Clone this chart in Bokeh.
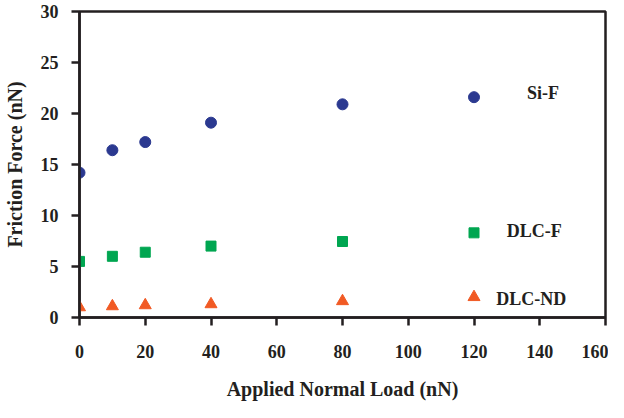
from bokeh.plotting import figure
from bokeh.embed import file_html
from bokeh.resources import INLINE
from bokeh.models import FixedTicker, Range1d
from bokeh.core.properties import value

# Data
load = [0, 10, 20, 40, 80, 120]
si_f = [14.2, 16.4, 17.2, 19.1, 20.9, 21.6]
dlc_f = [5.5, 6.0, 6.4, 7.0, 7.45, 8.3]
dlc_nd = [1.0, 1.1, 1.2, 1.3, 1.6, 2.0]

label_text = ["Si-F", "DLC-F", "DLC-ND"]
label_x = [141, 138.3, 137.4]
label_y = [22.0, 8.5, 1.8]

x_ticks = [0, 20, 40, 60, 80, 100, 120, 140, 160]
y_ticks = [0, 5, 10, 15, 20, 25, 30]

FONT = "Liberation Serif"

p = figure(width=608, height=402, output_backend="svg", toolbar_location=None,
           x_range=Range1d(0, 160), y_range=Range1d(0, 30),
           min_border_left=79, min_border_right=3, min_border_top=11, min_border_bottom=84)
p.background_fill_color = "white"
p.border_fill_color = "white"
p.outline_line_color = "#231f20"
p.outline_line_width = 2.5
p.xgrid.visible = False
p.ygrid.visible = False

for ax, ticks in ((p.xaxis[0], x_ticks), (p.yaxis[0], y_ticks)):
    ax.ticker = FixedTicker(ticks=ticks)
    ax.axis_line_color = "#231f20"
    ax.axis_line_width = 2.5
    ax.major_tick_line_color = "#231f20"
    ax.major_tick_line_width = 2.5
    ax.major_tick_out = 8
    ax.major_tick_in = 0
    ax.minor_tick_line_color = None
    ax.major_label_text_font = FONT
    ax.major_label_text_font_style = "bold"
    ax.major_label_text_font_size = "18px"
    ax.major_label_text_color = "#231f20"
    ax.axis_label_text_font = FONT
    ax.axis_label_text_font_style = "bold"
    ax.axis_label_text_font_size = "20px"
    ax.axis_label_text_color = "#231f20"

p.xaxis.axis_label = "Applied Normal Load (nN)"
p.yaxis.axis_label = "Friction Force (nN)"
p.xaxis.major_label_standoff = 19
p.xaxis.axis_label_standoff = 17
p.yaxis.major_label_standoff = 13
p.yaxis.axis_label_standoff = 12

p.scatter(load, si_f, marker="circle", size=11, fill_color="#2B3990", line_color="#2B3990")
p.scatter(load, dlc_f, marker="square", size=10, fill_color="#00A651", line_color="#00A651")
p.scatter(load, dlc_nd, marker="triangle", size=12, fill_color="#F15A24", line_color="#F15A24")

p.text(x=label_x, y=label_y, text=label_text, text_font=value(FONT),
       text_font_style="bold", text_font_size="18px", text_color="#231f20",
       text_align="center", text_baseline="middle")

open("out.html", "w").write(file_html(p, INLINE))
